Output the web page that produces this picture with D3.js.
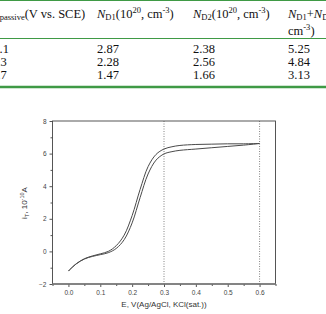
<!DOCTYPE html>
<meta charset="utf-8">
<head>
    <script type="text/javascript" src="https://cdn.jsdelivr.net/npm/d3@7"></script>
    <style>
        body { margin: 0; background: #fff; }
        .tbl { font-family: "Liberation Serif", "Times New Roman", serif; font-size: 12.5px; fill: #111; }
        .tick text { font-family: "Liberation Sans", Arial, sans-serif; font-size: 6.5px; fill: #444; }
        .lbl { font-family: "Liberation Sans", Arial, sans-serif; font-size: 8px; fill: #333; }
    </style>
</head>
<body>
<div id="chart"></div>
</body>
<script>
    // table values (passive potential vs. SCE and donor densities, 10^20 cm^-3)
    var passiveE = ["-0.1", "0.3", "0.7"];
    var nD1 = ["2.87", "2.28", "1.47"];
    var nD2 = ["2.38", "2.56", "1.66"];
    var nSum = ["5.25", "4.84", "3.13"];

    // curve: potential E (V vs Ag/AgCl) and tip current (10^-10 A)
    var potential = [0, 0.025, 0.05, 0.075, 0.1, 0.125, 0.15, 0.175, 0.2, 0.225, 0.25, 0.275, 0.3, 0.325, 0.35, 0.4, 0.45, 0.5, 0.55, 0.6];
    var currentUpper = [-1.2, -0.75, -0.45, -0.28, -0.15, 0.0, 0.35, 1.0, 2.2, 3.8, 5.2, 5.95, 6.28, 6.42, 6.5, 6.56, 6.58, 6.6, 6.6, 6.62];
    var currentLower = [-1.2, -0.76, -0.47, -0.31, -0.2, -0.08, 0.18, 0.72, 1.75, 3.3, 4.75, 5.6, 5.98, 6.12, 6.2, 6.28, 6.36, 6.44, 6.52, 6.62];
    var xTicks = [0, 0.1, 0.2, 0.3, 0.4, 0.5, 0.6];
    var xMinor = [-0.05, 0.05, 0.15, 0.25, 0.35, 0.45, 0.55, 0.65];
    var yTicks = [-2, 0, 2, 4, 6, 8];
    var yMinor = [-1, 1, 3, 5, 7];
    var markers = [0.3, 0.6];

    var svg = d3.select('#chart').append('svg')
        .attr('width', 326)
        .attr('height', 314);

    // ---- table (cropped at the picture edges, as in the source) ----
    var green = "#3f9a45";
    svg.append("line").attr("x1", 0).attr("x2", 326).attr("y1", 0.5).attr("y2", 0.5)
        .attr("stroke", green).attr("stroke-width", 1.2);
    svg.append("line").attr("x1", 0).attr("x2", 326).attr("y1", 38.5).attr("y2", 38.5)
        .attr("stroke", green).attr("stroke-width", 1.2);
    svg.append("line").attr("x1", 0).attr("x2", 326).attr("y1", 87).attr("y2", 87)
        .attr("stroke", green).attr("stroke-width", 2.5);

    var h0 = svg.append("text").attr("class", "tbl").attr("x", -8).attr("y", 18);
    h0.append("tspan").text("E");
    h0.append("tspan").attr("font-size", "8.5px").attr("dy", 2).text("passive");
    h0.append("tspan").attr("dy", -2).text("(V vs. SCE)");

    function densityHeader(x, sub) {
        var t = svg.append("text").attr("class", "tbl").attr("x", x).attr("y", 18);
        t.append("tspan").attr("font-style", "italic").text("N");
        t.append("tspan").attr("font-size", "8.5px").attr("dy", 2).text(sub);
        t.append("tspan").attr("dy", -2).text("(10");
        t.append("tspan").attr("font-size", "8.5px").attr("dy", -5).text("20");
        t.append("tspan").attr("dy", 5).text(", cm");
        t.append("tspan").attr("font-size", "8.5px").attr("dy", -5).text("-3");
        t.append("tspan").attr("dy", 5).text(")");
    }
    densityHeader(97, "D1");
    densityHeader(193, "D2");

    var h3 = svg.append("text").attr("class", "tbl").attr("x", 288).attr("y", 18);
    h3.append("tspan").attr("font-style", "italic").text("N");
    h3.append("tspan").attr("font-size", "8.5px").attr("dy", 2).text("D1");
    h3.append("tspan").attr("dy", -2).text("+");
    h3.append("tspan").attr("font-style", "italic").text("N");
    h3.append("tspan").attr("font-size", "8.5px").attr("dy", 2).text("D2");
    h3.append("tspan").attr("dy", -2).text("(10");
    h3.append("tspan").attr("font-size", "8.5px").attr("dy", -5).text("20");
    h3.append("tspan").attr("dy", 5).text(",");
    var h3b = svg.append("text").attr("class", "tbl").attr("x", 288).attr("y", 35);
    h3b.append("tspan").text("cm");
    h3b.append("tspan").attr("font-size", "8.5px").attr("dy", -5).text("-3");
    h3b.append("tspan").attr("dy", 5).text(")");

    var rowBase = function (i) { return 53 + i * 13; };
    svg.selectAll(".c0").data(passiveE).enter().append("text").attr("class", "tbl")
        .attr("x", -1).attr("y", (d, i) => rowBase(i)).attr("text-anchor", "middle").text(d => d);
    [[nD1, 97], [nD2, 193], [nSum, 288]].forEach(function (col) {
        svg.selectAll(null).data(col[0]).enter().append("text").attr("class", "tbl")
            .attr("x", col[1]).attr("y", (d, i) => rowBase(i)).text(d => d);
    });

    // ---- chart ----
    var x = d3.scaleLinear().domain([-0.05, 0.65]).range([52.5, 275.5]);
    var y = d3.scaleLinear().domain([-2, 8]).range([284, 121]);

    // minor ticks
    svg.append("g").attr("transform", "translate(0,284)")
        .call(d3.axisBottom(x).tickValues(xMinor).tickSize(2).tickSizeOuter(0).tickFormat(""))
        .call(g => g.select(".domain").remove())
        .selectAll("line").attr("stroke", "#555");
    svg.append("g").attr("transform", "translate(52.5,0)")
        .call(d3.axisLeft(y).tickValues(yMinor).tickSize(2).tickSizeOuter(0).tickFormat(""))
        .call(g => g.select(".domain").remove())
        .selectAll("line").attr("stroke", "#555");

    // major ticks
    svg.append("g").attr("transform", "translate(0,284)")
        .call(d3.axisBottom(x).tickValues(xTicks).tickSize(3).tickPadding(3).tickFormat(d3.format(".1f")))
        .call(g => g.select(".domain").remove())
        .selectAll("line").attr("stroke", "#555");
    svg.append("g").attr("transform", "translate(52.5,0)")
        .call(d3.axisLeft(y).tickValues(yTicks).tickSize(3).tickPadding(3).tickFormat(d3.format("d")))
        .call(g => g.select(".domain").remove())
        .selectAll("line").attr("stroke", "#555");

    // dotted marker lines
    svg.selectAll(".marker").data(markers).enter().append("line")
        .attr("x1", d => x(d)).attr("x2", d => x(d))
        .attr("y1", y(8)).attr("y2", y(-2))
        .attr("stroke", "#666").attr("stroke-width", 0.8)
        .attr("stroke-dasharray", "1,1.5");

    // curves
    var line = d3.line().curve(d3.curveCatmullRom)
        .x((d, i) => x(potential[i]));
    [currentUpper, currentLower].forEach(function (s) {
        svg.append("path")
            .attr("d", line.y(d => y(d))(s))
            .attr("fill", "none")
            .attr("stroke", "#4a4a4a")
            .attr("stroke-width", 1);
    });

    // frame
    svg.append("rect").attr("x", 52.5).attr("y", 121).attr("width", 223).attr("height", 163)
        .attr("fill", "none").attr("stroke", "#444").attr("stroke-width", 0.9);
    svg.append("line").attr("x1", 52).attr("x2", 276).attr("y1", 284).attr("y2", 284)
        .attr("stroke", "#777").attr("stroke-width", 1.6);

    // axis titles
    svg.append("text").attr("class", "lbl").attr("x", 164).attr("y", 307)
        .attr("text-anchor", "middle").text("E, V(Ag/AgCl, KCl(sat.))");
    var yl = svg.append("text").attr("class", "lbl")
        .attr("transform", "translate(27,203) rotate(-90)")
        .attr("text-anchor", "middle");
    yl.append("tspan").text("i");
    yl.append("tspan").attr("font-size", "5.5px").attr("dy", 2).text("T");
    yl.append("tspan").attr("dy", -2).text(", 10");
    yl.append("tspan").attr("font-size", "5.5px").attr("dy", -3).text("-10");
    yl.append("tspan").attr("dy", 3).text("A");
</script>
</html>
